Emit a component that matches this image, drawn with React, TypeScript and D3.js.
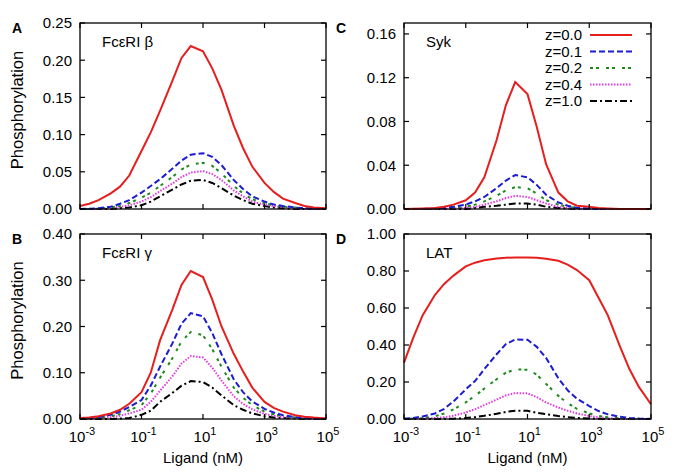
import React from 'react';
import * as d3 from 'd3';

// ligand concentrations (nM), sampled at 1, 2, 4 per decade
const ligand = [
  0.001, 0.002, 0.004, 0.01, 0.02, 0.04, 0.1, 0.2, 0.4, 1, 2, 4, 10, 20, 40,
  100, 200, 400, 1000, 2000, 4000, 10000, 20000, 40000, 100000,
];

const zLabels = ['z=0.0', 'z=0.1', 'z=0.2', 'z=0.4', 'z=1.0'];

// Panel A: FcεRI β
const betaZ00 = [0.004, 0.007, 0.012, 0.021, 0.030, 0.045, 0.078, 0.103, 0.132, 0.172, 0.203, 0.219, 0.212, 0.189, 0.160, 0.112, 0.082, 0.057, 0.035, 0.023, 0.014, 0.008, 0.004, 0.002, 0.001];
const betaZ01 = [0, 0.0005, 0.001, 0.003, 0.007, 0.012, 0.022, 0.031, 0.040, 0.054, 0.065, 0.073, 0.075, 0.070, 0.059, 0.039, 0.027, 0.017, 0.010, 0.006, 0.004, 0.002, 0.001, 0.0005, 0];
const betaZ02 = [0, 0, 0.0005, 0.002, 0.004, 0.008, 0.015, 0.022, 0.031, 0.043, 0.053, 0.060, 0.062, 0.058, 0.048, 0.031, 0.021, 0.013, 0.008, 0.005, 0.003, 0.002, 0.001, 0, 0];
const betaZ04 = [0, 0, 0, 0.001, 0.003, 0.005, 0.010, 0.016, 0.024, 0.034, 0.043, 0.049, 0.051, 0.047, 0.039, 0.025, 0.017, 0.010, 0.006, 0.004, 0.002, 0.001, 0, 0, 0];
const betaZ10 = [0, 0, 0, 0, 0.001, 0.002, 0.005, 0.010, 0.017, 0.026, 0.033, 0.038, 0.039, 0.035, 0.028, 0.018, 0.012, 0.007, 0.004, 0.002, 0.001, 0, 0, 0, 0];

// Panel B: FcεRI γ
const gammaZ00 = [0.002, 0.003, 0.006, 0.012, 0.020, 0.033, 0.058, 0.100, 0.170, 0.236, 0.290, 0.320, 0.307, 0.258, 0.200, 0.141, 0.103, 0.068, 0.037, 0.024, 0.016, 0.008, 0.005, 0.003, 0.001];
const gammaZ01 = [0.001, 0.002, 0.004, 0.009, 0.016, 0.026, 0.041, 0.072, 0.113, 0.163, 0.206, 0.229, 0.222, 0.186, 0.140, 0.086, 0.058, 0.038, 0.022, 0.014, 0.008, 0.004, 0.002, 0.001, 0.0005];
const gammaZ02 = [0.0005, 0.001, 0.003, 0.006, 0.011, 0.019, 0.030, 0.055, 0.089, 0.131, 0.168, 0.188, 0.181, 0.151, 0.113, 0.068, 0.046, 0.030, 0.016, 0.010, 0.006, 0.003, 0.001, 0.0005, 0];
const gammaZ04 = [0, 0.001, 0.002, 0.004, 0.007, 0.012, 0.020, 0.037, 0.061, 0.092, 0.120, 0.136, 0.133, 0.111, 0.083, 0.049, 0.033, 0.021, 0.011, 0.007, 0.004, 0.002, 0.001, 0, 0];
const gammaZ10 = [0, 0, 0, 0, 0.001, 0.002, 0.009, 0.018, 0.037, 0.056, 0.072, 0.082, 0.080, 0.068, 0.051, 0.030, 0.020, 0.012, 0.006, 0.003, 0.002, 0.001, 0, 0, 0];

// Panel C: Syk
const sykZ00 = [0, 0.0003, 0.0005, 0.001, 0.002, 0.004, 0.008, 0.015, 0.029, 0.063, 0.095, 0.116, 0.105, 0.075, 0.041, 0.015, 0.007, 0.003, 0.002, 0.001, 0.0005, 0, 0, 0, 0];
const sykZ01 = [0, 0, 0, 0.0005, 0.001, 0.002, 0.004, 0.007, 0.011, 0.019, 0.026, 0.031, 0.029, 0.022, 0.013, 0.006, 0.003, 0.001, 0.0005, 0, 0, 0, 0, 0, 0];
const sykZ02 = [0, 0, 0, 0, 0.0005, 0.001, 0.002, 0.004, 0.007, 0.012, 0.017, 0.020, 0.019, 0.014, 0.008, 0.004, 0.002, 0.001, 0, 0, 0, 0, 0, 0, 0];
const sykZ04 = [0, 0, 0, 0, 0, 0.0005, 0.001, 0.002, 0.004, 0.007, 0.010, 0.012, 0.011, 0.008, 0.005, 0.002, 0.001, 0.0005, 0, 0, 0, 0, 0, 0, 0];
const sykZ10 = [0, 0, 0, 0, 0, 0, 0, 0.001, 0.002, 0.003, 0.004, 0.005, 0.005, 0.004, 0.002, 0.001, 0.0005, 0, 0, 0, 0, 0, 0, 0, 0];

// Panel D: LAT
const latZ00 = [0.305, 0.44, 0.56, 0.67, 0.73, 0.775, 0.825, 0.845, 0.858, 0.868, 0.872, 0.873, 0.873, 0.872, 0.866, 0.855, 0.835, 0.805, 0.75, 0.655, 0.56, 0.39, 0.27, 0.175, 0.08];
const latZ01 = [0.002, 0.006, 0.014, 0.030, 0.055, 0.095, 0.160, 0.205, 0.270, 0.350, 0.405, 0.430, 0.428, 0.390, 0.330, 0.220, 0.155, 0.110, 0.070, 0.043, 0.025, 0.012, 0.006, 0.002, 0.001];
const latZ02 = [0.001, 0.002, 0.005, 0.015, 0.030, 0.052, 0.090, 0.125, 0.165, 0.215, 0.250, 0.268, 0.266, 0.240, 0.190, 0.125, 0.085, 0.055, 0.030, 0.017, 0.009, 0.004, 0.002, 0.001, 0];
const latZ04 = [0, 0.001, 0.002, 0.005, 0.010, 0.018, 0.035, 0.053, 0.075, 0.105, 0.128, 0.140, 0.139, 0.118, 0.090, 0.062, 0.045, 0.030, 0.016, 0.009, 0.004, 0.002, 0, 0, 0];
const latZ10 = [0, 0, 0, 0, 0.001, 0.002, 0.005, 0.010, 0.017, 0.028, 0.038, 0.045, 0.044, 0.034, 0.026, 0.016, 0.010, 0.006, 0.003, 0.001, 0, 0, 0, 0, 0];

const xTicks = [1e-3, 1e-1, 1e1, 1e3, 1e5];
const xTickExp = ['-3', '-1', '1', '3', '5'];

const styles = [
  { color: '#e61e1e', dash: 'none' },
  { color: '#1c1cd0', dash: '6,3' },
  { color: '#1e8a1e', dash: '3,3,3,7' },
  { color: '#e23ae2', dash: '1.5,1.5' },
  { color: '#000000', dash: '7,3,2,3' },
];

const FONT = 'Liberation Sans, Arial, Helvetica, sans-serif';

interface PanelProps {
  letter: string;
  title: string;
  series: number[][];
  yMax: number;
  yTicks: number[];
  box: { left: number; top: number; right: number; bottom: number };
  showXLabels: boolean;
  showYLabel: boolean;
  legend?: boolean;
}

const Panel: React.FC<PanelProps> = ({ letter, title, series, yMax, yTicks, box, showXLabels, showYLabel, legend }) => {
  const x = d3.scaleLog().domain([1e-3, 1e5]).range([box.left, box.right]);
  const y = d3.scaleLinear().domain([0, yMax]).range([box.bottom, box.top]);
  const tl = 5;
  const fmt = d3.format('.2f');

  const line = d3.line<number>()
    .x((_, i) => x(ligand[i]))
    .y(d => y(d));

  const cy = (box.top + box.bottom) / 2;
  const cx = (box.left + box.right) / 2;

  return (
    <g fontFamily={FONT}>
      {/* curves, drawn back to front so red ends on top */}
      {series.slice().reverse().map((s, ri) => {
        const i = series.length - 1 - ri;
        return (
          <path
            key={i}
            d={line(s) || ''}
            fill="none"
            stroke={styles[i].color}
            strokeWidth={2}
            strokeDasharray={styles[i].dash}
          />
        );
      })}
      <rect x={box.left} y={box.top} width={box.right - box.left} height={box.bottom - box.top}
        fill="none" stroke="#000" strokeWidth={1.3} />
      {/* y ticks, mirrored */}
      {yTicks.map(t => (
        <g key={'y' + t}>
          <line x1={box.left} x2={box.left + tl} y1={y(t)} y2={y(t)} stroke="#000" strokeWidth={1.2} />
          <line x1={box.right} x2={box.right - tl} y1={y(t)} y2={y(t)} stroke="#000" strokeWidth={1.2} />
          <text x={box.left - 8} y={y(t)} dy="0.36em" textAnchor="end" fontSize={15}>{fmt(t)}</text>
        </g>
      ))}
      {/* x ticks, mirrored */}
      {xTicks.map((t, i) => (
        <g key={'x' + t}>
          <line x1={x(t)} x2={x(t)} y1={box.bottom} y2={box.bottom - tl} stroke="#000" strokeWidth={1.2} />
          <line x1={x(t)} x2={x(t)} y1={box.top} y2={box.top + tl} stroke="#000" strokeWidth={1.2} />
          {showXLabels && (
            <text x={x(t) + 2} y={box.bottom + 23} textAnchor="middle" fontSize={15}>
              10<tspan dy={-7} fontSize={11}>{xTickExp[i]}</tspan>
            </text>
          )}
        </g>
      ))}
      {showXLabels && (
        <text x={cx} y={box.bottom + 44} textAnchor="middle" fontSize={15}>Ligand (nM)</text>
      )}
      {showYLabel && (
        <text transform={`translate(17,${cy - 6}) rotate(-90)`} dy="0.36em" textAnchor="middle" fontSize={16.5}>
          Phosphorylation
        </text>
      )}
      <text x={box.left - 68} y={box.top + 10} fontSize={14} fontWeight="bold">{letter}</text>
      <text x={box.left + 22} y={box.top + 24} fontSize={15}>{title}</text>
      {legend && zLabels.map((lab, i) => {
        const ly = box.top + 12 + i * 16.5;
        return (
          <g key={lab}>
            <text x={582} y={ly} dy="0.36em" textAnchor="end" fontSize={15}>{lab}</text>
            <line x1={590} x2={632} y1={ly} y2={ly} stroke={styles[i].color} strokeWidth={2}
              strokeDasharray={styles[i].dash} />
          </g>
        );
      })}
    </g>
  );
};

export default function App() {
  return (
    <div style={{ position: 'absolute', left: 0, top: 0, background: '#fff' }}>
      <svg width={682} height={475} viewBox="0 0 682 475">
        <rect width={682} height={475} fill="#fff" />
        <Panel letter="A" title="FcεRI β" series={[betaZ00, betaZ01, betaZ02, betaZ04, betaZ10]}
          yMax={0.25} yTicks={[0, 0.05, 0.1, 0.15, 0.2, 0.25]}
          box={{ left: 80, top: 23, right: 326, bottom: 209 }} showXLabels={false} showYLabel />
        <Panel letter="B" title="FcεRI γ" series={[gammaZ00, gammaZ01, gammaZ02, gammaZ04, gammaZ10]}
          yMax={0.4} yTicks={[0, 0.1, 0.2, 0.3, 0.4]}
          box={{ left: 80, top: 234, right: 326, bottom: 419 }} showXLabels showYLabel />
        <Panel letter="C" title="Syk" series={[sykZ00, sykZ01, sykZ02, sykZ04, sykZ10]}
          yMax={0.17} yTicks={[0, 0.04, 0.08, 0.12, 0.16]}
          box={{ left: 404, top: 23, right: 651, bottom: 209 }} showXLabels={false} showYLabel={false} legend />
        <Panel letter="D" title="LAT" series={[latZ00, latZ01, latZ02, latZ04, latZ10]}
          yMax={1} yTicks={[0, 0.2, 0.4, 0.6, 0.8, 1.0]}
          box={{ left: 404, top: 234, right: 651, bottom: 419 }} showXLabels showYLabel={false} />
      </svg>
    </div>
  );
}
